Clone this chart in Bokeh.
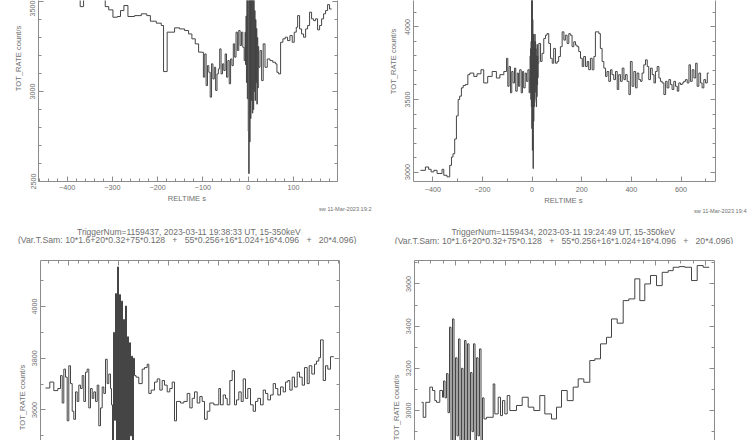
from bokeh.plotting import figure
from bokeh.layouts import column, row
from bokeh.models import Range1d, LinearAxis, SingleIntervalTicker, Title, CustomJSTickFormatter
from bokeh.core.properties import value
from bokeh.embed import file_html
from bokeh.resources import INLINE

# ---------------- data (RELTIME s, TOT_RATE count/s) ----------------
# top-left light curve
tl_t = [-461, -451, -441, -431, -421, -411, -401, -391, -381, -371, -363.5, -353, -343, -333, -323,
        -315.7, -308, -298.7, -289, -282, -274.5, -265.6, -251, -236, -224, -216, -203, -192, -187,
        -179, -162.6, -151.6, -140.5, -131.7, -124.4, -117, -109.6,
        -102, -99, -96, -93, -90, -87, -84, -81, -78, -75, -72, -69, -66, -63, -60, -57, -54, -51,
        -48, -45, -42, -39, -36, -33, -30, -27, -24, -21, -18, -15, -12, -9,
        -7, -6, -5, -4, -3, -2, -1, 0, 1, 2, 3, 4, 5, 6, 7, 8, 9, 10, 11, 12, 13, 14, 15, 16, 17,
        18, 19, 20, 21, 22,
        23, 26, 29.5, 33, 37, 42, 48, 54, 60, 63.3, 67, 71.4, 76.5, 81.7, 86.8, 92, 97.1, 101.5,
        106, 109, 113.3, 117.7, 122.1, 126.6, 131, 135.4, 139.8, 144.2, 148.6, 153, 157.5, 161.9,
        166.3, 170.7, 175.1, 179.5]
tl_end = 184
tl_rate = [3560, 3590, 3570, 3550, 3580, 3560, 3540, 3570, 3555, 3472, 3540, 3560, 3530, 3550, 3520,
           3472, 3454, 3413, 3417, 3450, 3478, 3417, 3422, 3432, 3422, 3391, 3380, 3367, 3111,
           3330, 3354, 3348, 3339, 3320, 3293, 3265, 3219,
           3218, 3080, 3209, 3033, 3144, 3107, 2969, 3154, 3070, 3135, 3006, 3098, 3126, 3237,
           3098, 3154, 3117, 3209, 3080, 3172, 3043, 3181, 3144, 3265, 3191, 3330, 3228, 3339,
           3256, 3330, 3246, 3172,
           3330, 3150, 3420, 3050, 3580, 2960, 3650, 2780, 2544, 3700, 2720, 3620, 2850, 3560,
           2950, 3600, 2880, 3520, 2900, 3580, 3000, 3450, 2950, 3400, 3050, 3350, 2930, 3300,
           3020, 3250,
           3135, 3228, 3061, 3265, 3135, 3181, 3172, 3163, 3154, 3107, 3098, 3274, 3293, 3302,
           3283, 3311, 3274, 3330, 3357, 3422, 3348, 3320, 3302, 3348, 3367, 3441, 3404, 3394,
           3404, 3343, 3367, 3404, 3432, 3450, 3483, 3459]

# top-right light curve
tr_t = [-450, -430, -417, -407, -396, -383, -363, -356, -343, -332, -325, -319, -312, -305, -298,
        -292, -285, -278, -269, -259, -251, -235, -222, -206, -195, -179, -161, -144, -130, -114,
        -103, -98, -93, -87, -82, -77, -71, -66, -60, -55, -50, -44, -39, -34, -28, -23, -17, -12,
        -9, -8, -7, -6, -5, -4, -3, -2, -1, 0, 1, 2, 3, 4, 5, 6, 7, 8, 9, 10, 11, 12, 13, 14, 15,
        16, 17, 18, 19, 20, 21, 22, 23, 24,
        27, 34, 40, 47, 54, 60, 67, 74, 81, 87, 94, 101, 107, 114,
        121, 128, 134, 141, 148, 154, 161, 168, 175, 181, 188, 195, 202, 208, 215, 222, 228, 235,
        242, 249, 255, 262, 269, 275, 282, 289, 296, 302, 309, 316, 322, 329, 336, 343, 349, 356,
        363, 370, 376, 383, 390, 396, 403, 410, 417, 423, 430, 437, 443, 450, 457, 464, 470, 477,
        484, 491, 497, 504, 511, 517, 524, 531, 538, 544, 551, 558, 564, 571, 578, 585, 591, 598,
        605, 611, 618, 625, 632, 638, 645, 652, 659, 665, 672, 679, 685, 692, 699, 706]
tr_end = 712
tr_rate = [3012, 3035, 3019, 3001, 3012, 2990, 3019, 2978, 2967, 3046, 3103, 3126, 3228, 3387, 3500,
           3523, 3580, 3596, 3603, 3671, 3682, 3659, 3677, 3705, 3614, 3659, 3693, 3648, 3671, 3693,
           3784, 3591, 3727, 3546, 3693, 3614, 3716, 3557, 3682, 3591, 3705, 3546, 3693, 3580,
           3682, 3625, 3705, 3546,
           3650, 3800, 3550, 3850, 3500, 3900, 3450, 4250, 3300, 4300, 3150, 4050, 3250, 3024,
           3950, 3350, 3900, 3450, 3850, 3500, 3950, 3550, 3900, 3600, 3850, 3480, 3450, 3800,
           3520, 3880, 3600, 3800, 3650, 3750,
           3886, 3762, 3818, 3920, 3943, 3954, 3886, 3784, 3750, 3852, 3750, 3762, 3796, 3864,
           3966, 3909, 3943, 3886, 3954, 3943, 3864, 3898, 3875, 3864, 3830, 3784, 3727, 3796,
           3727, 3762, 3705, 3784, 3705, 3796, 3966, 3966, 3954, 3852, 3762, 3716, 3659, 3693,
           3625, 3705, 3671, 3637, 3693, 3569, 3671, 3625, 3716, 3637, 3671, 3625, 3534, 3762,
           3591, 3693, 3580, 3682, 3637, 3625, 3682, 3739, 3773, 3727, 3637, 3716, 3671, 3614,
           3693, 3727, 3648, 3625, 3614, 3534, 3625, 3580, 3637, 3603, 3569, 3625, 3591, 3557,
           3614, 3603, 3614, 3625, 3637, 3614, 3739, 3625, 3705, 3648, 3750, 3591, 3682, 3614,
           3580, 3637, 3614, 3682]

# bottom-left light curve (TriggerNum=1159437)
bl_t = [-73, -68.7, -64.7, -60.7, -58, -56.3, -54.7, -53, -51.3, -49.7, -48, -46.3, -44.7, -43,
        -41.3, -39.7, -38, -36.3, -34.7, -33, -31.3, -29.7, -28, -26.3, -24.7, -23, -21.3, -19.7,
        -18, -16.3, -14.7, -13, -11.3, -9.7, -8,
        -7, -6, -5, -4, -3, -2, -1, 0, 1, 2, 3, 4, 5, 6, 7, 8, 9, 10, 11, 12, 13, 14, 15,
        16, 17.5, 20.3, 23.7, 26, 28.7, 30.3, 32.7, 36, 38.7, 41.3, 43.7, 46, 48.7, 51.3, 53.7, 56,
        58, 62, 65.3, 68.7, 71.3, 73.7, 76, 78.7, 81.3, 83.7, 86, 88.7, 91.3, 95.3, 100.3, 102,
        104.7, 107, 108.7, 111.3, 113.7, 116, 118, 120.3, 122.7, 124.7, 127, 129.3, 132, 134.7,
        137, 139.3, 142, 144.7, 147, 149.3, 152, 154.7, 157, 159.3, 162, 164.7, 167, 169.3, 171.3,
        173.7, 176, 178.7, 181, 183.7, 186, 188.7, 190.7, 193.3, 196, 198, 200.3, 202, 204.7, 207,
        209.3, 212]
bl_end = 215.3
bl_rate = [3685, 3708, 3675, 3683, 3733, 3627, 3758, 3727, 3558, 3771, 3702, 3595, 3564, 3670,
           3633, 3696, 3683, 3733, 3633, 3746, 3758, 3608, 3683, 3645, 3670, 3633, 3696, 3539,
           3608, 3689, 3664, 3796, 3702, 3739, 3683,
           3620, 3480, 3900, 3560, 4050, 3450, 4153, 3470, 4046, 3400, 4021, 3460, 3950, 3440,
           4002, 3470, 3883, 3430, 3860, 3500, 3808, 3470, 3800,
           3733, 3727, 3702, 3758, 3764, 3777, 3664, 3677, 3708, 3720, 3677, 3714, 3696, 3670,
           3683, 3708, 3558, 3633, 3627, 3633, 3664, 3608, 3645, 3670, 3627, 3652, 3633, 3564,
           3595, 3627, 3620, 3683, 3620, 3658, 3645, 3620, 3714, 3752, 3620, 3639, 3670, 3633,
           3720, 3645, 3683, 3620, 3595, 3633, 3645, 3620, 3677, 3664, 3639, 3658, 3702, 3683,
           3658, 3689, 3670, 3708, 3714, 3677, 3727, 3689, 3746, 3727, 3696, 3764, 3702, 3771,
           3739, 3777, 3789, 3802, 3871, 3714, 3771, 3758, 3806]

# bottom-right light curve (TriggerNum=1159434)
br_t = [-34, -32.3, -29.7, -25.7, -23, -20.7, -19, -15.7, -13,
        -12, -10.5, -9, -7.5, -6, -4.5, -3, -1.5, 0, 1.5, 3, 4.5, 6, 7.5, 9, 10.5, 12, 13.5,
        15, 16.5, 18, 19.5, 21, 22.5, 24, 25.5, 27, 28.5,
        31, 37.7, 39.3, 42.7, 45, 47, 49.3, 51.7, 54.3, 61, 66.7, 72.7, 78.3, 84.3, 89.3, 96, 101,
        106, 111.7, 117.7, 122.7, 128.3, 134.3, 139.3, 145, 151, 156, 161.7, 167.7, 173.3, 179.3,
        184.3, 189.3, 195, 201, 206.7, 212.7, 217.7, 223.7, 229.3, 236, 241.7, 247.7]
br_end = 253.7
br_rate = [3039, 2968, 3039, 3111, 3095, 3047, 3039, 3095, 3063,
           3140, 3060, 3175, 2990, 3395, 2820, 3434, 2800, 3250, 2880, 3339, 2830, 3200, 2850,
           3332, 2800, 3316, 2820, 3180, 2900, 3316, 2830, 3250, 2880, 3292, 2850, 3060, 2960,
           2968, 3126, 2984, 3063, 2976, 3047, 2984, 3071, 3000, 3024, 3063, 3016, 3000, 3071,
           2984, 2960, 3016, 3095, 3047, 3111, 3150, 3134, 3237, 3245, 3316, 3347, 3434, 3414,
           3521, 3529, 3624, 3521, 3600, 3640, 3592, 3655, 3663, 3679, 3682, 3679, 3616, 3687, 3679]

GAP = " \u00a0 + \u00a0 "
title_bl = ["TriggerNum=1159437, 2023-03-11 19:38:33 UT, 15-350keV",
            "(Var.T.Sam: 10*1.6+20*0.32+75*0.128" + GAP + "55*0.256+16*1.024+16*4.096" + GAP + "20*4.096)"]
title_br = ["TriggerNum=1159434, 2023-03-11 19:24:49 UT, 15-350keV",
            "(Var.T.Sam: 10*1.6+20*0.32+75*0.128" + GAP + "55*0.256+16*1.024+16*4.096" + GAP + "20*4.096)"]
x_title = "RELTIME  s"
y_title = "TOT_RATE  count/s"
stamp_tl = "sw 11-Mar-2023 19:2"
stamp_tr = "sw 11-Mar-2023 19:4"

# ---------------- styling ----------------
LINE = "#454545"
AXIS = "#8c8c8c"
TEXT = "#6e6e6e"
FONT = "Liberation Sans"


def style_axis(ax, interval, minor, labels, standoff=3):
    ax.ticker = SingleIntervalTicker(interval=interval, num_minor_ticks=minor)
    ax.axis_line_color = AXIS
    ax.major_tick_line_color = AXIS
    ax.minor_tick_line_color = AXIS
    ax.major_tick_in = 5
    ax.major_tick_out = 0
    ax.minor_tick_in = 3
    ax.minor_tick_out = 0
    ax.major_label_text_font = FONT
    ax.major_label_text_font_size = "7.2px"
    ax.major_label_text_color = TEXT
    ax.major_label_standoff = standoff
    ax.axis_label_text_font = FONT
    ax.axis_label_text_font_size = "7.6px"
    ax.axis_label_text_font_style = "normal"
    ax.axis_label_text_color = TEXT
    ax.axis_label_standoff = 1
    if not labels:
        ax.formatter = CustomJSTickFormatter(code="return ''")
        ax.major_label_text_font_size = "0px"
        ax.major_label_standoff = 0


def make_panel(geom, x_side, xtick, ytick, t, rate, t_end, xstand=3):
    w, h, bl, br, bt, bb, xr, yr = geom
    p = figure(width=w, height=h, x_range=Range1d(*xr), y_range=Range1d(*yr),
               output_backend="svg", toolbar_location=None, tools="",
               x_axis_location=x_side, y_axis_location="left",
               min_border_left=bl, min_border_right=br,
               min_border_top=bt, min_border_bottom=bb,
               background_fill_color="white", border_fill_color="white")
    p.outline_line_color = None
    for g in p.grid:
        g.visible = False
    xa = p.xaxis[0]
    ya = p.yaxis[0]
    style_axis(xa, xtick[0], xtick[1], x_side == "below", xstand)
    if x_side == "below":
        xa.axis_label = x_title
    style_axis(ya, ytick[0], ytick[1], True)
    ya.major_label_orientation = "vertical"
    ra = LinearAxis()
    style_axis(ra, ytick[0], ytick[1], False)
    p.add_layout(ra, "right")
    assert len(t) == len(rate)
    xs = list(t) + [t_end]
    ys = list(rate) + [rate[-1]]
    p.step(xs, ys, mode="after", line_color=LINE, line_width=1)
    return p


def add_title(p, side, text, size, align="center", offset=0, standoff=0, valign="bottom"):
    p.add_layout(Title(text=text, align=align, offset=offset, standoff=standoff,
                       vertical_align=valign,
                       text_font=FONT, text_font_size=size, text_font_style="normal",
                       text_color=TEXT), side)


def title_strip(w, h, items):
    # a bare canvas whose data units are its own pixels (y downwards)
    s = figure(width=w, height=h, x_range=Range1d(0, w), y_range=Range1d(h, 0),
               output_backend="svg", toolbar_location=None, tools="",
               x_axis_location=None, y_axis_location=None, min_border=0,
               background_fill_color="white", border_fill_color="white")
    s.outline_line_color = None
    for g in s.grid:
        g.visible = False
    for x, y, txt, size in items:
        s.text(x=[x], y=[y], text=[txt], text_font=value(FONT), text_font_size=value(size),
               text_color=TEXT, text_align="center", text_baseline="middle")
    return s


# geometry: width, height, min borders (l, r, t, b), x range, y range
STRIP = 29
g_tl = (376, 215, 38, 39, 0, 34, (-463, 197), (2500, 3506))
g_tr = (376, 215, 37, 37, 0, 32, (-478, 739), (2935, 4182))
g_bl = (376, 225 - STRIP, 40, 37, 11, 0, (-78, 221), (3482, 4178))
g_br = (376, 225 - STRIP, 38, 38, 16, 0, (-41, 259), (2858, 3711))

p_tl = make_panel(g_tl, "below", (100, 5), (500, 5), tl_t, tl_rate, tl_end, 3)
p_tr = make_panel(g_tr, "below", (200, 2), (500, 5), tr_t, tr_rate, tr_end, 5)
p_bl = make_panel(g_bl, "above", (50, 5), (200, 2), bl_t, bl_rate, bl_end)
p_br = make_panel(g_br, "above", (50, 4), (200, 2), br_t, br_rate, br_end)

# y axis titles, anchored at their upper end as in the reference
add_title(p_tl, "left", y_title, "7.6px", align="right", offset=23, standoff=10)
add_title(p_tr, "left", y_title, "7.6px", align="right", offset=26, standoff=10)
add_title(p_bl, "left", y_title, "7.6px", align="right", offset=102, standoff=5)
add_title(p_br, "left", y_title, "7.6px", align="right", offset=112, standoff=5)

# plot stamps under the top panels (right end past the frame)
add_title(p_tl, "below", stamp_tl, "5.6px", align="right", offset=-34, standoff=0, valign="top")
add_title(p_tr, "below", stamp_tr, "5.6px", align="right", offset=-31, standoff=0, valign="top")

# two-line titles of the bottom panels
s_bl = title_strip(376, STRIP, [(188.3, 16.2, title_bl[0], "8.5px"), (186.7, 24.6, title_bl[1], "8.7px")])
s_br = title_strip(376, STRIP, [(186.7, 16.8, title_br[0], "8.5px"), (187.5, 25.0, title_br[1], "8.7px")])

layout = column(row(p_tl, p_tr), row(s_bl, s_br), row(p_bl, p_br))
open("out.html", "w").write(file_html(layout, INLINE))
